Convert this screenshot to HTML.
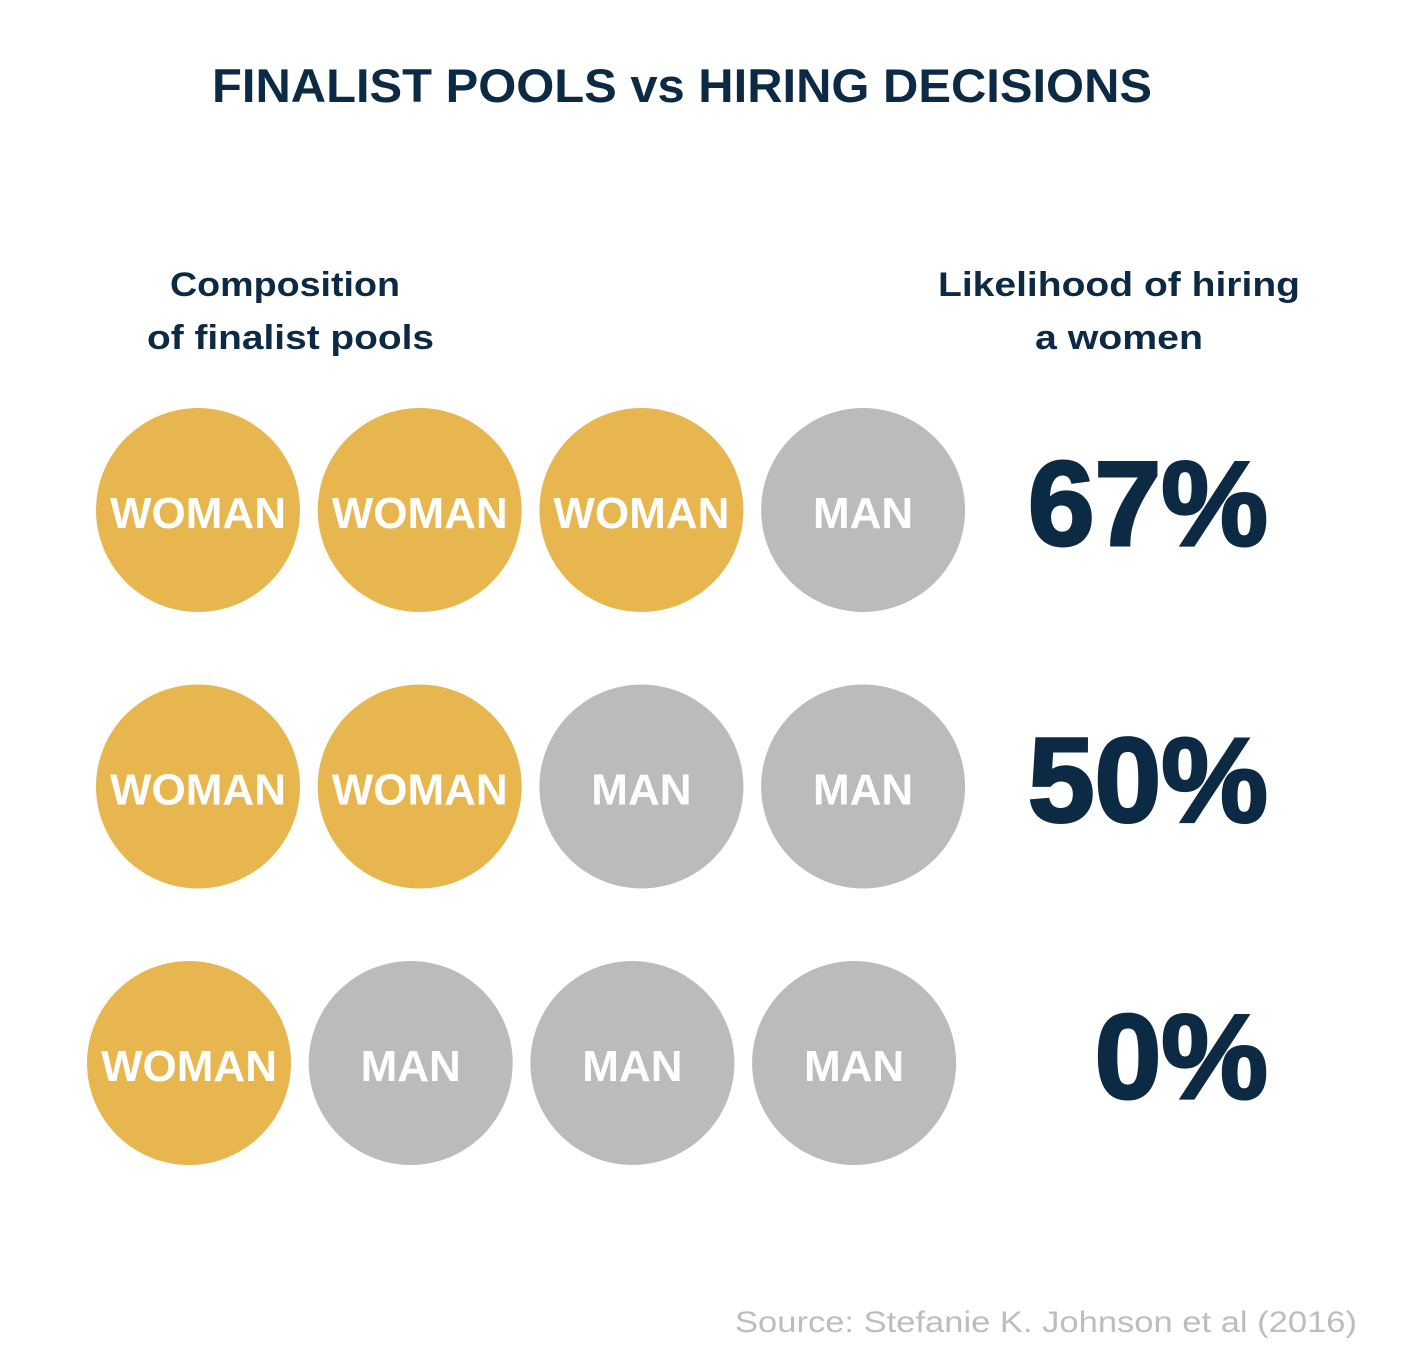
<!DOCTYPE html>
<html><head><meta charset="utf-8"><style>
html,body{margin:0;padding:0;background:#fff;}
svg{display:block;font-family:"Liberation Sans",sans-serif;}
</style></head><body>
<svg id="chart" width="1404" height="1360" viewBox="0 0 1404 1360">
<text x="212" y="102" font-size="47" font-weight="bold" fill="#0D2A45" textLength="940" lengthAdjust="spacingAndGlyphs">FINALIST POOLS vs HIRING DECISIONS</text>
<text x="170" y="296" font-size="34" font-weight="bold" fill="#0D2A45" textLength="230" lengthAdjust="spacingAndGlyphs">Composition</text>
<text x="147" y="349" font-size="34" font-weight="bold" fill="#0D2A45" textLength="287" lengthAdjust="spacingAndGlyphs">of finalist pools</text>
<text x="938" y="296" font-size="34" font-weight="bold" fill="#0D2A45" textLength="362" lengthAdjust="spacingAndGlyphs">Likelihood of hiring</text>
<text x="1035" y="349" font-size="34" font-weight="bold" fill="#0D2A45" textLength="168" lengthAdjust="spacingAndGlyphs">a women</text>
<g id="rows"></g>
<text x="1357" y="1332" text-anchor="end" font-size="30" fill="#BDBDBD" textLength="622" lengthAdjust="spacingAndGlyphs">Source: Stefanie K. Johnson et al (2016)</text>
</svg>
<script>
const rowLabels = ["pool-3w1m","pool-2w2m","pool-1w3m"];
const womenCounts = [3, 2, 1];
const poolSize = [4, 4, 4];
const hirePct = [67, 50, 0];

const NS = "http://www.w3.org/2000/svg";
const g = document.getElementById("rows");
const rowY = i => 510 + i * 276.5;
const colX = (i, j) => (i === 2 ? 189 : 198) + j * 221.7;
const R = 102;
rowLabels.forEach((name, i) => {
  const row = document.createElementNS(NS, "g");
  
  
  for (let j = 0; j < poolSize[i]; j++) {
    const woman = j < womenCounts[i];
    const c = document.createElementNS(NS, "circle");
    
    
    c.setAttribute("cx", colX(i, j)); c.setAttribute("cy", rowY(i)); c.setAttribute("r", R);
    c.setAttribute("fill", woman ? "#E8B64F" : "#BBBBBB");
    row.appendChild(c);
    const t = document.createElementNS(NS, "text");
    
    
    t.setAttribute("x", colX(i, j)); t.setAttribute("y", rowY(i) + 18);
    t.setAttribute("text-anchor", "middle"); t.setAttribute("font-size", "44");
    t.setAttribute("font-weight", "bold"); t.setAttribute("fill", "#fff");
    if (woman) { t.setAttribute("textLength", "176"); t.setAttribute("lengthAdjust", "spacingAndGlyphs"); }
    t.textContent = woman ? "WOMAN" : "MAN";
    row.appendChild(t);
  }
  const p = document.createElementNS(NS, "text");
  
  
  p.setAttribute("x", 1268); p.setAttribute("y", rowY(i) + 35);
  p.setAttribute("text-anchor", "end"); p.setAttribute("font-size", "120");
  p.setAttribute("font-weight", "bold"); p.setAttribute("fill", "#0D2A45");
  p.setAttribute("stroke", "#0D2A45"); p.setAttribute("stroke-width", "3");
  p.textContent = hirePct[i] + "%";
  row.appendChild(p);
  g.appendChild(row);
});
</script>
</body></html>
